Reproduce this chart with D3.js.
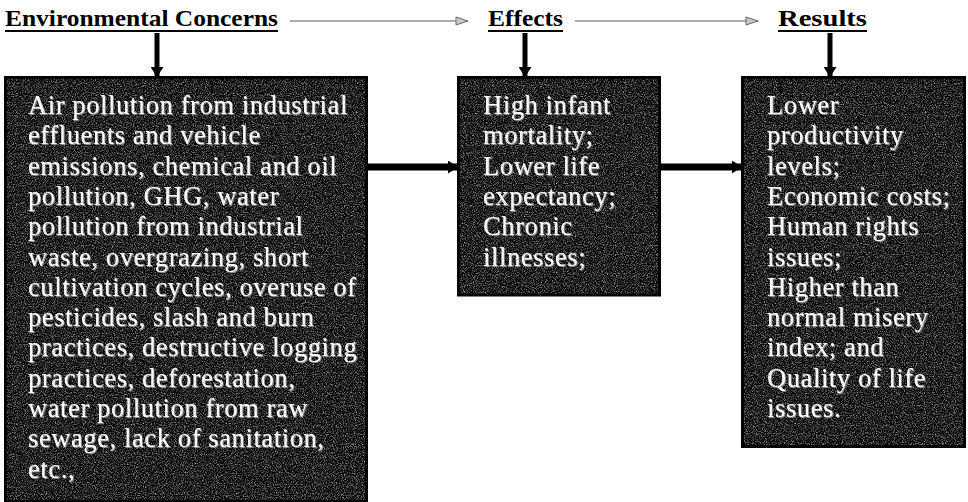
<!DOCTYPE html>
<html lang="en">
<head>
  <meta charset="UTF-8">
  <title>Environmental Concerns - Effects - Results</title>
  <script src="https://d3js.org/d3.v7.min.js"></script>
  <style>
    body { margin: 0; background: #fff; }
    svg { display: block; }
    .head { font-family: "Liberation Serif", "Times New Roman", serif; font-weight: bold; font-size: 24px; fill: #000; }
    .body { font-family: "Liberation Serif", "Times New Roman", serif; font-size: 26.5px; fill: #fff; }
  </style>
</head>
<body>
  <svg id="chart" width="968" height="502"></svg>

  <script>
// diagram content
const stages = ["Environmental Concerns", "Effects", "Results"];

const concernLines = [
  "Air pollution from industrial",
  "effluents and vehicle",
  "emissions, chemical and oil",
  "pollution, GHG, water",
  "pollution from industrial",
  "waste, overgrazing, short",
  "cultivation cycles, overuse of",
  "pesticides, slash and burn",
  "practices, destructive logging",
  "practices, deforestation,",
  "water pollution from raw",
  "sewage, lack of sanitation,",
  "etc.,"
];

const effectLines = [
  "High infant",
  "mortality;",
  "Lower life",
  "expectancy;",
  "Chronic",
  "illnesses;"
];

const resultLines = [
  "Lower",
  "productivity",
  "levels;",
  "Economic costs;",
  "Human rights",
  "issues;",
  "Higher than",
  "normal misery",
  "index; and",
  "Quality of life",
  "issues."
];

const boxLines = [concernLines, effectLines, resultLines];

// layout
const headX = [5, 488, 778];
const headW = [273, 75, 89];
const boxX0 = [5, 458, 742];
const boxX1 = [367, 660, 965];
const boxTop = 77;
const firstBase = 114;
const lineGap = 30.3;
const arrowDownX = [157, 525, 830];
const flowY = 167;

const svg = d3.select("#chart");
const defs = svg.append("defs");

// speckled scan texture for the dark boxes
const grain = defs.append("filter").attr("id", "grain")
  .attr("x", 0).attr("y", 0).attr("width", 1).attr("height", 1);
grain.append("feTurbulence").attr("type", "fractalNoise")
  .attr("baseFrequency", 0.9).attr("numOctaves", 2).attr("seed", 7).attr("result", "n");
grain.append("feColorMatrix").attr("in", "n").attr("type", "matrix")
  .attr("values", "0 0 0 0 0.7  0 0 0 0 0.7  0 0 0 0 0.7  2.2 0 0 0 -0.97")
  .attr("result", "spots");
grain.append("feComposite").attr("in", "spots").attr("in2", "SourceGraphic").attr("operator", "in");

const glow = defs.append("filter").attr("id", "emboss")
  .attr("x", -0.05).attr("y", -0.2).attr("width", 1.1).attr("height", 1.4);
glow.append("feDropShadow").attr("dx", 1).attr("dy", 1).attr("stdDeviation", 0.4)
  .attr("flood-color", "#8a8a8a").attr("flood-opacity", 1);

// arrow heads
defs.append("marker").attr("id", "thinHead")
  .attr("viewBox", "0 0 14 10").attr("refX", 13).attr("refY", 5)
  .attr("markerWidth", 14).attr("markerHeight", 10)
  .attr("markerUnits", "userSpaceOnUse").attr("orient", "auto")
  .append("path").attr("d", "M1,1 L13,5 L1,9 Z")
  .attr("fill", "#c8c8c8").attr("stroke", "#6a6a6a").attr("stroke-width", 1);

defs.append("marker").attr("id", "thickHead")
  .attr("viewBox", "0 0 10 10").attr("refX", 10).attr("refY", 5)
  .attr("markerWidth", 10).attr("markerHeight", 13)
  .attr("markerUnits", "userSpaceOnUse").attr("orient", "auto")
  .attr("preserveAspectRatio", "none")
  .append("path").attr("d", "M0,0 L10,5 L0,10 Z").attr("fill", "#000");

const y = d3.scaleLinear().domain([0, 1]).range([firstBase, firstBase + lineGap]);
const boxBottom = d => Math.min(y(d.length - 1) + 30, 502);

// boxes
const boxes = svg.selectAll(".box")
  .data(boxLines)
  .enter().append("g")
  .attr("class", "box");

boxes.append("rect")
  .attr("x", (d, i) => boxX0[i])
  .attr("y", boxTop)
  .attr("width", (d, i) => boxX1[i] - boxX0[i])
  .attr("height", d => boxBottom(d) - boxTop)
  .attr("fill", "#050505")
  .attr("stroke", "#000").attr("stroke-width", 2);

boxes.append("rect")
  .attr("x", (d, i) => boxX0[i] + 2)
  .attr("y", boxTop + 2)
  .attr("width", (d, i) => boxX1[i] - boxX0[i] - 4)
  .attr("height", d => boxBottom(d) - boxTop - 4)
  .attr("fill", "#fff")
  .attr("opacity", 0.85)
  .attr("filter", "url(#grain)");

boxes.each(function(lines, i) {
  d3.select(this).selectAll("text")
    .data(lines)
    .enter().append("text")
    .attr("class", "body")
    .attr("x", boxX0[i] + [23, 25, 25][i])
    .attr("y", (d, j) => y(j))
    .attr("letter-spacing", 0.6)
    .attr("filter", "url(#emboss)")
    .text(d => d);
});

// stage headings
const heads = svg.selectAll(".stage")
  .data(stages)
  .enter().append("g")
  .attr("class", "stage");

heads.append("text")
  .attr("class", "head")
  .attr("x", (d, i) => headX[i])
  .attr("y", 26)
  .attr("textLength", (d, i) => headW[i])
  .attr("lengthAdjust", "spacingAndGlyphs")
  .text(d => d);

heads.append("line")
  .attr("x1", (d, i) => headX[i])
  .attr("x2", (d, i) => headX[i] + headW[i])
  .attr("y1", 31).attr("y2", 31)
  .attr("stroke", "#000").attr("stroke-width", 2);

// thin arrows between headings
svg.selectAll(".thin")
  .data(d3.pairs(d3.range(stages.length)))
  .enter().append("line")
  .attr("class", "thin")
  .attr("x1", ([a]) => headX[a] + headW[a] + 12)
  .attr("x2", ([, b]) => headX[b] - 20)
  .attr("y1", 21).attr("y2", 21)
  .attr("stroke", "#5a5a5a").attr("stroke-width", 1.2)
  .attr("marker-end", "url(#thinHead)");

// thick arrows from heading down to box
svg.selectAll(".down")
  .data(stages)
  .enter().append("line")
  .attr("class", "down")
  .attr("x1", (d, i) => arrowDownX[i]).attr("x2", (d, i) => arrowDownX[i])
  .attr("y1", 33).attr("y2", boxTop)
  .attr("stroke", "#000").attr("stroke-width", 5)
  .attr("marker-end", "url(#thickHead)");

// thick arrows box to box
svg.selectAll(".flow")
  .data(d3.pairs(d3.range(stages.length)))
  .enter().append("line")
  .attr("class", "flow")
  .attr("x1", ([a]) => boxX1[a]).attr("x2", ([, b]) => boxX0[b])
  .attr("y1", flowY).attr("y2", flowY)
  .attr("stroke", "#000").attr("stroke-width", 7)
  .attr("marker-end", "url(#thickHead)");
  </script>
</body>
</html>
